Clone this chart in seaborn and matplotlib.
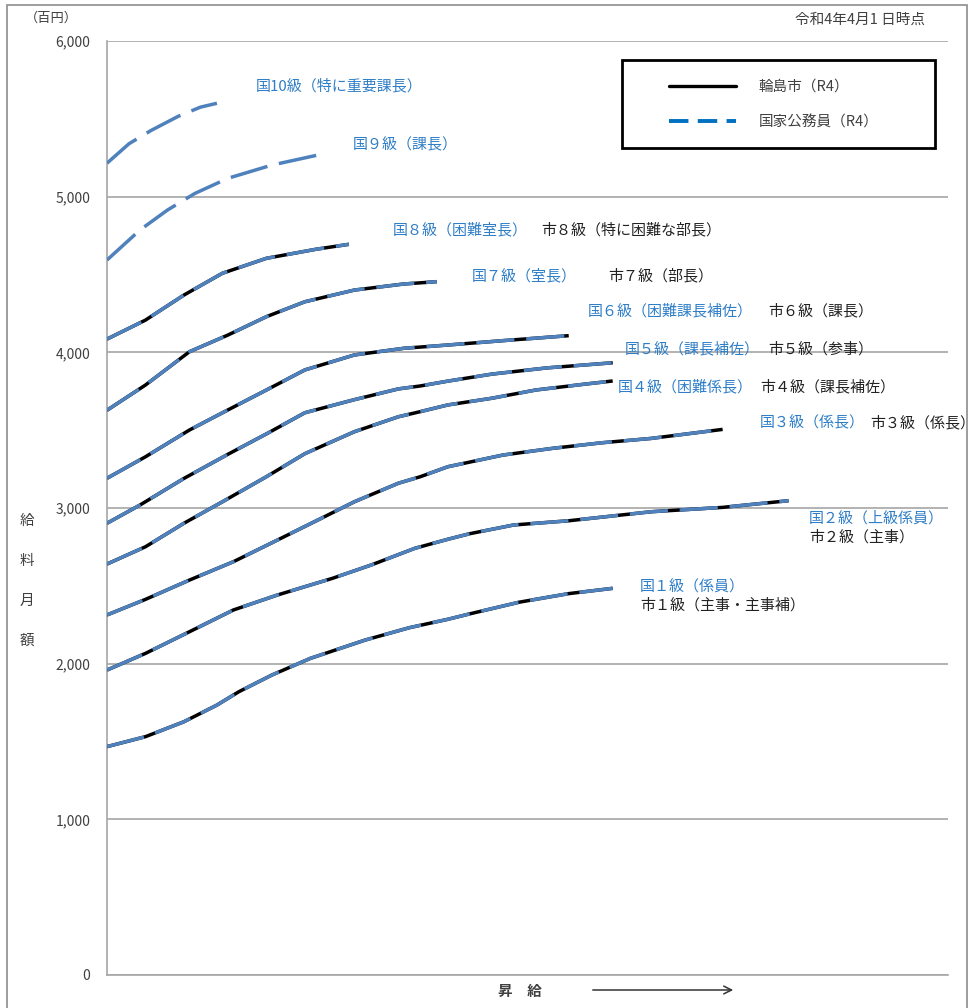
import matplotlib
matplotlib.use("Agg")
import matplotlib.pyplot as plt
import seaborn as sns
import pandas as pd
from matplotlib.lines import Line2D
from matplotlib.patches import Rectangle, FancyArrowPatch

# ---------------- data (salary step -> monthly salary, 百円) ----------------
g1_step = [1, 8, 15, 21, 25, 31, 38, 48, 56, 63, 67, 76, 85, 93]
g1_val = [1467, 1531, 1627, 1734, 1820, 1927, 2034, 2152, 2231, 2285, 2320, 2395, 2450, 2484]

g2_step = [1, 8, 16, 24, 32, 42, 49, 57, 63, 67, 75, 85, 100, 113, 125]
g2_val = [1959, 2066, 2205, 2345, 2441, 2548, 2633, 2741, 2799, 2835, 2891, 2918, 2976, 3004, 3047]

g3_step = [1, 8, 16, 24, 32, 40, 46, 54, 58, 63, 73, 82, 91, 100, 113]
g3_val = [2313, 2413, 2537, 2655, 2794, 2934, 3040, 3159, 3201, 3265, 3340, 3383, 3419, 3447, 3505]

g4_step = [1, 8, 15, 22, 30, 37, 46, 54, 58, 63, 71, 79, 88, 93]
g4_val = [2640, 2751, 2902, 3040, 3201, 3349, 3490, 3586, 3619, 3662, 3705, 3758, 3796, 3816]

g5_step = [1, 7, 15, 23, 30, 37, 46, 54, 58, 63, 71, 81, 93]
g5_val = [2902, 3019, 3190, 3345, 3476, 3612, 3696, 3765, 3784, 3815, 3860, 3900, 3933]

g6_step = [1, 8, 16, 23, 30, 37, 46, 55, 63, 73, 85]
g6_val = [3191, 3329, 3501, 3630, 3758, 3887, 3983, 4026, 4047, 4075, 4107]

g7_step = [1, 8, 16, 23, 30, 37, 46, 55, 61]
g7_val = [3628, 3790, 4004, 4111, 4229, 4325, 4400, 4439, 4454]

g8_step = [1, 8, 15, 22, 30, 39, 45]
g8_val = [4085, 4207, 4368, 4508, 4604, 4662, 4694]

g9_step = [1, 7, 12, 17, 23, 31, 41]
g9_val = [4593, 4786, 4914, 5021, 5118, 5203, 5280]

g10_step = [1, 5, 9, 14, 18, 21]
g10_val = [5215, 5340, 5425, 5517, 5575, 5600]

city_grades = [(g1_step, g1_val), (g2_step, g2_val), (g3_step, g3_val), (g4_step, g4_val),
               (g5_step, g5_val), (g6_step, g6_val), (g7_step, g7_val), (g8_step, g8_val)]
nat_grades = city_grades + [(g9_step, g9_val), (g10_step, g10_val)]

y_ticks = [0, 1000, 2000, 3000, 4000, 5000, 6000]

legend_labels = ["輪島市（R4）", "国家公務員（R4）"]

grade_labels = [
    ("国10級（特に重要課長）", "blue", 256, 86),
    ("国９級（課長）", "blue", 353, 145),
    ("国８級（困難室長）", "blue", 393, 230),
    ("市８級（特に困難な部長）", "black", 541, 230),
    ("国７級（室長）", "blue", 472, 276),
    ("市７級（部長）", "black", 608, 276),
    ("国６級（困難課長補佐）", "blue", 588, 311),
    ("市６級（課長）", "black", 768, 311),
    ("国５級（課長補佐）", "blue", 625, 349),
    ("市５級（参事）", "black", 768, 349),
    ("国４級（困難係長）", "blue", 618, 387),
    ("市４級（課長補佐）", "black", 760, 387),
    ("国３級（係長）", "blue", 760, 423),
    ("市３級（係長）", "black", 870, 423),
    ("国２級（上級係員）", "blue", 809, 518),
    ("市２級（主事）", "black", 809, 537),
    ("国１級（係員）", "blue", 640, 587),
    ("市１級（主事・主事補）", "black", 640, 605),
]

# ---------------- style ----------------
sns.set_theme(style="white")
plt.rcParams['font.family'] = ['Noto Sans CJK JP', 'DejaVu Sans']

W, H = 973, 1008
fig = plt.figure(figsize=(W / 100, H / 100), dpi=100)
ax = fig.add_axes([107 / W, 1 - 975 / H, (948 - 107) / W, (975 - 41) / H])

LINE_BLUE = "#4f81bd"
TEXT_BLUE = "#2f7ec8"
GRID = "#a6a6a6"

# city lines (black solid)
for st, vals in city_grades:
    df = pd.DataFrame({"step": st, "val": vals})
    sns.lineplot(data=df, x="step", y="val", ax=ax, color="black", lw=2.5,
                 solid_capstyle="butt", solid_joinstyle="round", zorder=3)

# national lines (blue dashed, on top)
for st, vals in nat_grades:
    df = pd.DataFrame({"step": st, "val": vals})
    sns.lineplot(data=df, x="step", y="val", ax=ax, color=LINE_BLUE, lw=2.5,
                 linestyle=(0, (11, 3.4)), dash_capstyle="butt", dash_joinstyle="round", zorder=4)

ax.set_xlim(1, 154)
ax.set_ylim(0, 6000)
ax.set_yticks(y_ticks)
ax.set_yticklabels([f"{v:,}" for v in y_ticks], fontsize=10, color="#404040")
ax.set_xticks([])
ax.set_xlabel("")
ax.set_ylabel("")
ax.tick_params(axis="y", length=0, pad=12)
ax.grid(axis="y", color=GRID, lw=1.2)
ax.grid(axis="x", visible=False)
for side in ["top", "right"]:
    ax.spines[side].set_visible(False)
for side in ["left", "bottom"]:
    ax.spines[side].set_color(GRID)
    ax.spines[side].set_linewidth(1.2)

# grade labels
for txt, col, px, py in grade_labels:
    fig.text(px / W, 1 - py / H, txt, color=TEXT_BLUE if col == "blue" else "#222222",
             fontsize=10.8, ha="left", va="center")

# header texts
fig.text(25 / W, 1 - 18 / H, "（百円）", fontsize=9.5, color="#404040", ha="left", va="center")
fig.text(925 / W, 1 - 20 / H, "令和4年4月1 日時点", fontsize=10.5, color="#404040", ha="right", va="center")

# vertical y label
for i, ch in enumerate("給料月額"):
    fig.text(27 / W, 1 - (521 + i * 40) / H, ch, fontsize=10.5, color="#404040", ha="center", va="center")

# x label with arrow
fig.text(498 / W, 1 - 991 / H, "昇　給", fontsize=10.5, color="#404040", ha="left", va="center",
         fontweight="bold")
fig.add_artist(FancyArrowPatch((590 / W, 1 - 990 / H), (736 / W, 1 - 990 / H),
                               transform=fig.transFigure, arrowstyle="->",
                               mutation_scale=14, color="#333333", lw=1.1))

# legend box
fig.add_artist(Rectangle((622 / W, 1 - 148 / H), (935 - 622) / W, (148 - 60) / H,
                         transform=fig.transFigure, fill=False, edgecolor="black", lw=2))
handles = [Line2D([], [], color="black", lw=2.4),
           Line2D([], [], color="#0070c0", lw=2.8, linestyle=(0, (5, 2.4)))]
fig.legend(handles, legend_labels, loc="center left", bbox_to_anchor=(662 / W, 1 - 104.5 / H),
           bbox_transform=fig.transFigure, frameon=False, fontsize=10.5, handlelength=4.6,
           handletextpad=1.5, labelspacing=1.45, borderpad=0, labelcolor="#404040")

# outer border
fig.add_artist(Rectangle((7 / W, -0.01), (967 - 7) / W, 1 - 5 / H + 0.01,
                         transform=fig.transFigure, fill=False, edgecolor="#8c8c8c", lw=1.2))

fig.savefig("out.png", dpi=100)
